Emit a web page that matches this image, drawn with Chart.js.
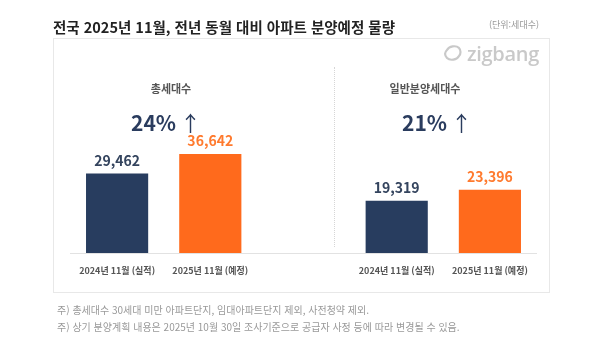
<!DOCTYPE html>
<html lang="ko">
<head>
<meta charset="utf-8">
<script src="https://cdn.jsdelivr.net/npm/chart.js@4"></script>
<style>
  html, body { margin: 0; padding: 0; background: #fff; }
  body { width: 600px; height: 348px; position: relative; overflow: hidden;
         font-family: "Noto Sans CJK KR", "Noto Sans", sans-serif; }
  .abs { position: absolute; white-space: nowrap; }
  #title { left: 53px; top: 17px; height: 20px; line-height: 20px; font-size: 14.5px; font-weight: bold; color: #222; }
  #unit { left: 489px; top: 19px; height: 12px; line-height: 12px; font-size: 9px; color: #9a9a9a; }
  #box { left: 53px; top: 38px; width: 495px; height: 253px; border: 1px solid #e8e8e8; }
  #divider { left: 334px; top: 67px; height: 180px; border-left: 1px dotted #d6d6d6; }
  .head { font-size: 11px; font-weight: bold; color: #555; height: 14px; line-height: 14px; transform: translateX(-50%); top: 81px; }
  .pct { font-size: 21px; font-weight: bold; color: #2a3c5e; height: 28px; line-height: 28px; transform: translateX(-50%); top: 108px; }
  .pct .arr { font-weight: normal; margin-left: 4px; }
  .note { left: 57px; font-size: 10px; color: #999; height: 14px; line-height: 14px; }
  #logo { left: 444px; top: 41px; height: 24px; display: flex; align-items: center; color: #c9c9c9; }
  #logo span { font-family: "Open Sans", "Noto Sans", sans-serif; font-size: 20px; font-weight: 600; margin-left: 5px; letter-spacing: -0.3px; }
  #chart { position: absolute; left: 0; top: 0; }
</style>
</head>
<body>
<div id="box" class="abs"></div>
<div id="divider" class="abs"></div>
<canvas id="chart" width="600" height="348"></canvas>
<div id="title" class="abs">전국 2025년 11월, 전년 동월 대비 아파트 분양예정 물량</div>
<div id="unit" class="abs">(단위:세대수)</div>
<div id="logo" class="abs">
  <svg width="18" height="16" viewBox="0 0 18 16">
    <path d="M3 5 C5 1, 12 0, 15 3 M15 11 C13 15, 6 16, 3 13 C0 10, 1 7, 3 5 M15 3 C17 5, 17 9, 15 11" fill="none" stroke="#c9c9c9" stroke-width="2.2" stroke-linecap="round"/>
  </svg>
  <span>zigbang</span>
</div>
<div id="h0" class="abs head" style="left:171px"></div>
<div id="h1" class="abs head" style="left:425px"></div>
<div id="p0" class="abs pct" style="left:166px"></div>
<div id="p1" class="abs pct" style="left:437px"></div>
<div class="abs note" style="top:303px">주) 총세대수 30세대 미만 아파트단지, 임대아파트단지 제외, 사전청약 제외.</div>
<div class="abs note" style="top:320px">주) 상기 분양계획 내용은 2025년 10월 30일 조사기준으로 공급자 사정 등에 따라 변경될 수 있음.</div>

<script>
// 분양 물량 (단위: 세대수)
const periods = ['2024년 11월 (실적)', '2025년 11월 (예정)'];
const groupNames = ['총세대수', '일반분양세대수'];
const prevYear = [29462, 19319];   // 2024년 11월 실적
const thisYear = [36642, 23396];   // 2025년 11월 예정

const NAVY = '#283d5f';
const ORANGE = '#ff6a1c';

// 그룹별 제목과 증가율
groupNames.forEach((name, i) => {
  document.getElementById('h' + i).textContent = name;
  const pct = Math.round((thisYear[i] / prevYear[i] - 1) * 100);
  document.getElementById('p' + i).innerHTML = pct + '%<span class="arr">↑</span>';
});

// 두 그룹을 한 축에 그리고 가운데 칸은 비워 둔다
const labels = [periods[0], periods[1], '', periods[0], periods[1]];
const values = [prevYear[0], thisYear[0], null, prevYear[1], thisYear[1]];
const colors = [NAVY, ORANGE, 'rgba(0,0,0,0)', NAVY, ORANGE];
const labelColors = ['#34445e', '#ff7a2e', '#000', '#34445e', '#ff7a2e'];

const valueLabels = {
  id: 'valueLabels',
  afterDatasetsDraw(chart) {
    const ctx = chart.ctx;
    const meta = chart.getDatasetMeta(0);
    ctx.save();
    ctx.font = 'bold 14px "Noto Sans CJK KR", "Noto Sans", sans-serif';
    ctx.textAlign = 'center';
    ctx.textBaseline = 'middle';
    meta.data.forEach((bar, i) => {
      const v = values[i];
      if (v == null) return;
      ctx.fillStyle = labelColors[i];
      ctx.fillText(v.toLocaleString('en-US'), bar.x, bar.y - 13);
    });
    ctx.restore();
  }
};

new Chart(document.getElementById('chart'), {
  type: 'bar',
  data: {
    labels: labels,
    datasets: [{
      data: values,
      backgroundColor: colors,
      borderWidth: 0,
      barPercentage: 0.667,
      categoryPercentage: 1
    }]
  },
  options: {
    responsive: false,
    animation: false,
    events: [],
    layout: { padding: { left: 70.5, right: 63.5, top: 91, bottom: 0 } },
    plugins: { legend: { display: false }, tooltip: { enabled: false } },
    scales: {
      x: {
        grid: { display: false, drawTicks: false },
        border: { display: true, color: '#e2e2e2', width: 1 },
        ticks: {
          padding: 12,
          color: '#555',
          font: { family: '"Noto Sans CJK KR", "Noto Sans", sans-serif', size: 9, weight: 'bold' },
          maxRotation: 0,
          autoSkip: false
        },
        afterFit(scale) { scale.height = 348 - 253; }
      },
      y: {
        display: false,
        min: 0,
        max: 60000
      }
    }
  },
  plugins: [valueLabels]
});
</script>
</body>
</html>
